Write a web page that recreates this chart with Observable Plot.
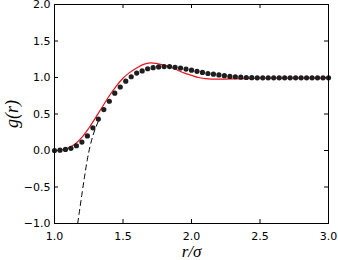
<!DOCTYPE html>
<html>
<head>
<meta charset="utf-8">
<script src="https://cdn.jsdelivr.net/npm/d3@7"></script>
<script src="https://cdn.jsdelivr.net/npm/@observablehq/plot@0.6"></script>
<style>
  html, body { margin: 0; padding: 0; background: #fff; }
</style>
</head>
<body>
<div id="chart"></div>
<script>
// Simulation points (black dots)
const dotR = [1.00,1.04,1.08,1.12,1.16,1.20,1.24,1.28,1.32,1.36,1.40,1.44,1.48,1.52,1.56,1.60,1.64,1.68,1.72,1.76,1.80,1.84,1.88,1.92,1.96,2.00,2.04,2.08,2.12,2.16,2.20,2.24,2.28,2.32,2.36,2.40,2.44,2.48,2.52,2.56,2.60,2.64,2.68,2.72,2.76,2.80,2.84,2.88,2.92,2.96,3.00];
const dotG = [0.00,0.005,0.015,0.03,0.065,0.115,0.20,0.31,0.43,0.56,0.675,0.785,0.87,0.95,1.01,1.06,1.09,1.12,1.135,1.145,1.15,1.15,1.14,1.13,1.115,1.10,1.085,1.07,1.055,1.045,1.035,1.025,1.015,1.01,1.005,1.0,0.998,0.996,0.995,0.995,0.995,0.995,0.995,0.995,0.995,0.995,0.995,0.995,0.995,0.995,0.995];

// Theory (red line)
const redR = [1.00,1.05,1.10,1.15,1.20,1.25,1.30,1.35,1.40,1.45,1.50,1.55,1.60,1.65,1.70,1.75,1.80,1.85,1.90,1.95,2.00,2.05,2.10,2.15,2.20,2.30,2.40,2.50,2.75,3.00];
const redG = [0.00,0.01,0.035,0.09,0.18,0.305,0.45,0.60,0.75,0.88,0.99,1.07,1.13,1.18,1.20,1.19,1.17,1.14,1.10,1.06,1.03,1.00,0.985,0.978,0.977,0.98,0.985,0.99,0.992,0.992];

// Asymptotic form (dashed line)
const dashR = [1.16,1.18,1.20,1.22,1.24,1.26,1.28,1.30,1.32];
const dashG = [-1.12,-0.86,-0.60,-0.35,-0.12,0.06,0.20,0.31,0.40];

const xTicks = [1.0,1.5,2.0,2.5,3.0];
const yTicks = [-1.0,-0.5,0.0,0.5,1.0,1.5,2.0];
const xLabel = "r/σ";
const yLabel = "g(r)";

const W = 338, H = 260;
const mL = 54, mR = 10, mT = 4, mB = 37;
const iW = W - mL - mR, iH = H - mT - mB;
const tick = 4;

const dots = dotR.map((r, i) => ({r, g: dotG[i]}));
const red = redR.map((r, i) => ({r, g: redG[i]}));
const dash = dashR.map((r, i) => ({r, g: dashG[i]}));
const fmt = d3.format(".1f");

const chart = Plot.plot({
  width: W, height: H,
  marginLeft: mL, marginRight: mR, marginTop: mT, marginBottom: mB,
  style: {fontFamily: "DejaVu Sans", fontSize: "11px", color: "#000", background: "#fff"},
  x: {domain: [1, 3]},
  y: {domain: [-1, 2]},
  marks: [
    Plot.axisX(xTicks, {tickSize: 0, tickPadding: 9, tickFormat: fmt, label: null, fontSize: 11}),
    Plot.axisY(yTicks, {tickSize: 0, tickPadding: 4, tickFormat: fmt, label: null, fontSize: 11}),
    // inward ticks on all four sides
    Plot.tickX(xTicks, {x: d => d, insetTop: iH - tick, stroke: "#000"}),
    Plot.tickX(xTicks, {x: d => d, insetBottom: iH - tick, stroke: "#000"}),
    Plot.tickY(yTicks, {y: d => d, insetRight: iW - tick, stroke: "#000"}),
    Plot.tickY(yTicks, {y: d => d, insetLeft: iW - tick, stroke: "#000"}),
    Plot.line(dash, {x: "r", y: "g", stroke: "#000", strokeWidth: 1, strokeDasharray: "5,4", curve: "natural", clip: true}),
    Plot.line(red, {x: "r", y: "g", stroke: "#e8121c", strokeWidth: 1.2, curve: "catmull-rom"}),
    Plot.dot(dots, {x: "r", y: "g", r: 2.6, fill: "#1e1e1e", stroke: "none"}),
    Plot.frame({stroke: "#000", strokeWidth: 1}),
    Plot.text([xLabel], {frameAnchor: "bottom", lineAnchor: "middle", textAnchor: "middle", dy: 28.5, text: d => d, fontSize: 17, fontStyle: "italic", fontFamily: "Liberation Serif", fill: "#000"}),
    Plot.text([yLabel], {frameAnchor: "left", lineAnchor: "middle", textAnchor: "middle", dx: -42, rotate: -90, text: d => d, fontSize: 18, fontStyle: "italic", fontFamily: "Liberation Serif", fill: "#000"})
  ]
});
document.getElementById("chart").appendChild(chart);
</script>
</body>
</html>
